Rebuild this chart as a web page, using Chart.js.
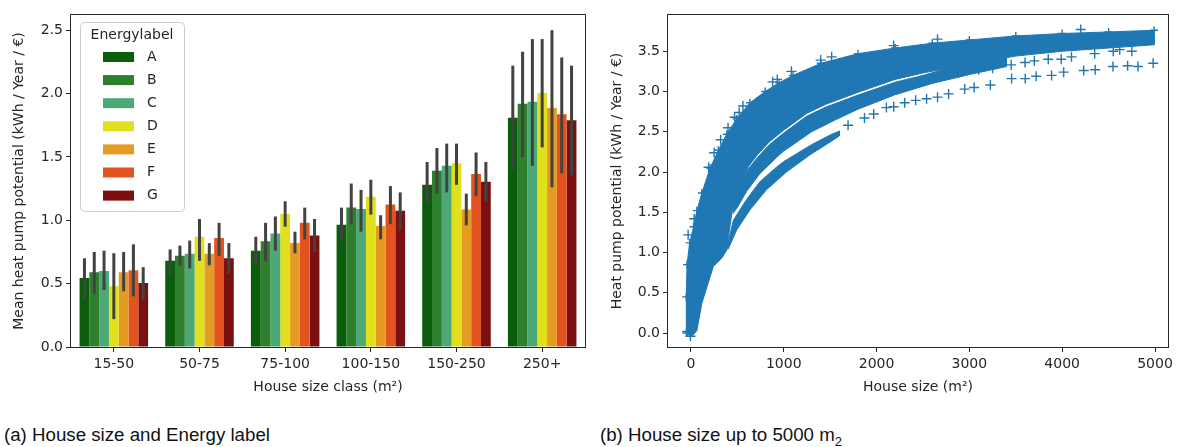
<!DOCTYPE html>
<html>
<head>
<meta charset="utf-8">
<script src="https://cdn.jsdelivr.net/npm/chart.js@4.4.1/dist/chart.umd.min.js"></script>
<style>
    body { margin: 0; background: #fff; width: 1177px; height: 447px; overflow: hidden; position: relative; font-family: 'Liberation Sans', Arial, sans-serif; }
    #barChart { position: absolute; left: 0; top: 0; }
    #scatterChart { position: absolute; left: 595px; top: 0; }
    .caption { position: absolute; top: 426px; font-size: 18.7px; line-height: 1; color: #111; white-space: nowrap; }
    .caption .sub { font-size: 13px; position: relative; top: 5px; }
</style>
</head>
<body>
<canvas id="barChart" width="600" height="410"></canvas>
<canvas id="scatterChart" width="582" height="410"></canvas>
<div class="caption" style="left:4px">(a) House size and Energy label</div>
<div class="caption" style="left:600px">(b) House size up to 5000 m<span class="sub">2</span></div>

<script>
// Panel (a): mean heat pump potential per house size class and energy label
const sizeClasses = ['15-50', '50-75', '75-100', '100-150', '150-250', '250+'];
const energyLabels = ['A', 'B', 'C', 'D', 'E', 'F', 'G'];

const meanA = [0.545, 0.68, 0.76, 0.965, 1.28, 1.81];
const meanB = [0.59, 0.72, 0.835, 1.10, 1.39, 1.92];
const meanC = [0.60, 0.735, 0.895, 1.09, 1.43, 1.935];
const meanD = [0.48, 0.87, 1.05, 1.185, 1.45, 2.005];
const meanE = [0.59, 0.735, 0.82, 0.955, 1.085, 1.887];
const meanF = [0.605, 0.86, 0.98, 1.125, 1.366, 1.837];
const meanG = [0.505, 0.70, 0.88, 1.075, 1.305, 1.79];

// confidence intervals [low, high]
const ciA = [[0.37, 0.70], [0.57, 0.77], [0.645, 0.87], [0.83, 1.10], [1.13, 1.46], [1.395, 2.22]];
const ciB = [[0.42, 0.75], [0.64, 0.80], [0.68, 0.98], [0.97, 1.29], [1.21, 1.57], [1.50, 2.33]];
const ciC = [[0.45, 0.76], [0.62, 0.84], [0.76, 1.03], [0.91, 1.24], [1.22, 1.605], [1.43, 2.43]];
const ciD = [[0.22, 0.74], [0.68, 1.01], [0.95, 1.15], [1.045, 1.32], [1.28, 1.605], [1.575, 2.43]];
const ciE = [[0.44, 0.75], [0.645, 0.82], [0.74, 0.91], [0.85, 1.04], [0.96, 1.21], [1.26, 2.50]];
const ciF = [[0.40, 0.81], [0.72, 0.98], [0.85, 1.10], [0.97, 1.27], [1.19, 1.535], [1.37, 2.285]];
const ciG = [[0.37, 0.63], [0.58, 0.82], [0.75, 1.01], [0.92, 1.22], [1.145, 1.46], [1.355, 2.22]];

const barTicks = [0, 0.5, 1.0, 1.5, 2.0, 2.5];

// Panel (b): house size vs heat pump potential, [size, potential]
const sizeTicks = [0, 1000, 2000, 3000, 4000, 5000];
const potentialTicks = [0, 0.5, 1.0, 1.5, 2.0, 2.5, 3.0, 3.5];

const mainBandTop = [[-48, 0.0], [-50, 0.45], [-42, 0.85], [-14, 1.12], [29, 1.32], [64, 1.52], [118, 1.74], [207, 2.05],
    [296, 2.27], [386, 2.47], [493, 2.66], [636, 2.86], [800, 3.0], [950, 3.11], [1100, 3.2], [1400, 3.35], [1800, 3.47],
    [2200, 3.54], [2600, 3.6], [3000, 3.64], [3500, 3.69], [4000, 3.72], [4500, 3.74], [4990, 3.76]];
const mainBandBottom = [[4990, 3.58], [4500, 3.54], [4000, 3.5], [3500, 3.44], [3000, 3.34], [2500, 3.23], [2200, 3.15],
    [1800, 2.99], [1450, 2.84], [1250, 2.73], [1000, 2.52], [850, 2.38], [720, 2.22], [620, 2.07], [530, 1.82], [450, 1.56],
    [405, 1.2], [386, 1.03], [332, 0.93], [243, 0.83], [207, 0.70], [118, 0.37], [64, 0.03], [10, -0.04], [-25, -0.03]];

const midBandTop = [[450, 1.56], [530, 1.82], [620, 2.04], [720, 2.185], [850, 2.345], [1000, 2.485], [1250, 2.695], [1450, 2.805],
    [1800, 2.955], [2200, 3.115], [2500, 3.2], [2800, 3.3], [3000, 3.34], [3400, 3.42]];
const midBandBottom = [[3400, 3.31], [3000, 3.21], [2600, 3.10], [2200, 2.96], [1800, 2.78], [1560, 2.65], [1300, 2.5],
    [1100, 2.34], [1000, 2.26], [921, 2.18], [743, 1.98], [600, 1.76], [500, 1.56], [450, 1.48]];

const lowBandTop = [[386, 1.05], [457, 1.40], [600, 1.66], [743, 1.88], [921, 2.06], [1000, 2.13], [1100, 2.2], [1300, 2.34],
    [1500, 2.46], [1600, 2.51]];
const lowBandBottom = [[1600, 2.45], [1564, 2.42], [1279, 2.21], [1029, 2.0], [814, 1.78], [636, 1.53], [493, 1.28], [400, 1.04]];

const lowSparse = [[1693, 2.58], [1870, 2.67], [1969, 2.72], [2106, 2.80], [2185, 2.81], [2303, 2.86], [2421, 2.89],
    [2539, 2.91], [2657, 2.93], [2776, 2.97], [2950, 3.03], [3051, 3.05], [3226, 3.08], [3455, 3.16], [3602, 3.16],
    [3720, 3.19], [3886, 3.20], [4016, 3.24], [4232, 3.26], [4356, 3.27], [4547, 3.31], [4705, 3.32], [4817, 3.31], [4980, 3.35]];
const midSparse = [[2700, 3.19], [2880, 3.23], [3100, 3.27], [3250, 3.29], [3450, 3.33], [3600, 3.36], [3700, 3.38],
    [3850, 3.40], [3990, 3.40], [4100, 3.43], [4350, 3.47], [4550, 3.50], [4620, 3.52], [4750, 3.50]];
const upperOutliers = [[-30, 1.22], [35, 1.42], [190, 2.06], [250, 2.24], [320, 2.40], [400, 2.55], [470, 2.68], [520, 2.74],
    [560, 2.82], [880, 3.12], [930, 3.15], [1083, 3.25], [1398, 3.39], [1516, 3.43], [2185, 3.57], [2657, 3.65],
    [4200, 3.77], [-40, 0.02], [-5, -0.04]];

const labelColors = ['#0a5d0a', '#2e7f2e', '#4da877', '#e2e01c', '#e39b23', '#e2531f', '#7a1010'];
const means = [meanA, meanB, meanC, meanD, meanE, meanF, meanG];
const cis = [ciA, ciB, ciC, ciD, ciE, ciF, ciG];

const ink = '#262626';
const blue = '#1f77b4';

Chart.defaults.font.family = "'DejaVu Sans', sans-serif";
Chart.defaults.font.size = 14;
Chart.defaults.color = ink;

function fixedTicks(values) {
    return scale => { scale.ticks = values.map(v => ({ value: v })); };
}

const tickGrid = { display: true, drawOnChartArea: false, drawTicks: true, tickLength: 5, color: ink, lineWidth: 1 };

// Rahmen um die Achsen
const framePlugin = {
    id: 'frame',
    afterDraw(chart) {
        const { ctx, chartArea: a } = chart;
        ctx.save();
        ctx.strokeStyle = ink;
        ctx.lineWidth = 1;
        ctx.strokeRect(Math.round(a.left) - 0.5, Math.round(a.top) - 0.5, Math.round(a.right - a.left) + 1, Math.round(a.bottom - a.top) + 1);
        ctx.restore();
    }
};

// Fehlerbalken
const errorBars = {
    id: 'errorBars',
    afterDatasetsDraw(chart) {
        const ctx = chart.ctx;
        const y = chart.scales.y;
        ctx.save();
        ctx.strokeStyle = '#424242';
        ctx.lineWidth = 3;
        chart.data.datasets.forEach((ds, i) => {
            chart.getDatasetMeta(i).data.forEach((bar, j) => {
                const [lo, hi] = ds.ci[j];
                ctx.beginPath();
                ctx.moveTo(bar.x, y.getPixelForValue(lo));
                ctx.lineTo(bar.x, y.getPixelForValue(hi));
                ctx.stroke();
            });
        });
        ctx.restore();
    }
};

// Legende innerhalb der Achsen
const innerLegend = {
    id: 'innerLegend',
    afterDraw(chart) {
        const { ctx, chartArea: a } = chart;
        const x0 = a.left + 9, y0 = a.top + 7, w = 104, h = 189;
        ctx.save();
        ctx.fillStyle = 'rgba(255,255,255,0.8)';
        ctx.strokeStyle = '#cccccc';
        ctx.lineWidth = 1;
        ctx.beginPath();
        ctx.roundRect(x0 + 0.5, y0 + 0.5, w, h, 4);
        ctx.fill();
        ctx.stroke();
        ctx.fillStyle = ink;
        ctx.font = "14px 'DejaVu Sans'";
        ctx.textBaseline = 'middle';
        ctx.textAlign = 'center';
        ctx.fillText('Energylabel', x0 + w / 2, y0 + 13);
        ctx.textAlign = 'left';
        chart.data.datasets.forEach((ds, i) => {
            const cy = y0 + 35 + i * 23.1;
            ctx.fillStyle = ds.backgroundColor;
            ctx.fillRect(x0 + 23, cy - 5, 31, 10);
            ctx.fillStyle = ink;
            ctx.fillText(ds.label, x0 + 67, cy);
        });
        ctx.restore();
    }
};

new Chart(document.getElementById('barChart'), {
    type: 'bar',
    data: {
        labels: sizeClasses,
        datasets: energyLabels.map((lab, i) => ({
            label: lab,
            data: means[i],
            ci: cis[i],
            backgroundColor: labelColors[i],
            borderWidth: 0,
            categoryPercentage: 0.8,
            barPercentage: 1.0
        }))
    },
    options: {
        responsive: false,
        animation: false,
        devicePixelRatio: 1,
        layout: { padding: { left: 0, right: 15, top: 15, bottom: 0 } },
        plugins: { legend: { display: false }, tooltip: { enabled: false } },
        scales: {
            x: {
                offset: true,
                grid: { ...tickGrid, offset: false },
                border: { display: false },
                ticks: { padding: 4, color: ink },
                title: { display: true, text: 'House size class (m²)', padding: { top: 0, bottom: 14 }, color: ink },
                afterFit: s => { s.height = 63; }
            },
            y: {
                min: 0,
                max: 2.62,
                grid: tickGrid,
                border: { display: false },
                afterBuildTicks: fixedTicks(barTicks),
                ticks: { padding: 3, color: ink, callback: v => v.toFixed(1) },
                title: { display: true, text: 'Mean heat pump potential (kWh / Year / €)', padding: { top: 11, bottom: 0 }, color: ink },
                afterFit: s => { s.width = 71; }
            }
        }
    },
    plugins: [errorBars, innerLegend, framePlugin]
});

const toPoints = arr => arr.map(([x, y]) => ({ x, y }));

function band(top, bottom) {
    return {
        data: toPoints(top.concat(bottom)),
        showLine: true,
        fill: 'shape',
        tension: 0,
        backgroundColor: blue,
        borderColor: blue,
        borderWidth: 1,
        pointRadius: 0
    };
}

function crosses(arr, r) {
    return {
        data: toPoints(arr),
        showLine: false,
        pointStyle: 'cross',
        pointRadius: r,
        pointBorderWidth: 1.4,
        borderColor: blue,
        backgroundColor: blue
    };
}

new Chart(document.getElementById('scatterChart'), {
    type: 'scatter',
    data: {
        datasets: [
            band(mainBandTop, mainBandBottom),
            band(midBandTop, midBandBottom),
            band(lowBandTop, lowBandBottom),
            crosses(mainBandTop, 4),
            crosses(lowSparse, 5),
            crosses(midSparse, 5),
            crosses(upperOutliers, 5)
        ]
    },
    options: {
        responsive: false,
        animation: false,
        devicePixelRatio: 1,
        layout: { padding: { left: 0, right: 7, top: 15, bottom: 0 } },
        plugins: { legend: { display: false }, tooltip: { enabled: false } },
        scales: {
            x: {
                type: 'linear',
                min: -247,
                max: 5140,
                grid: tickGrid,
                border: { display: false },
                afterBuildTicks: fixedTicks(sizeTicks),
                ticks: { padding: 4, color: ink, callback: v => String(v) },
                title: { display: true, text: 'House size (m²)', padding: { top: 0, bottom: 14 }, color: ink },
                afterFit: s => { s.height = 63; }
            },
            y: {
                min: -0.173,
                max: 3.95,
                grid: tickGrid,
                border: { display: false },
                afterBuildTicks: fixedTicks(potentialTicks),
                ticks: { padding: 3, color: ink, callback: v => v.toFixed(1) },
                title: { display: true, text: 'Heat pump potential (kWh / Year / €)', padding: { top: 13.6, bottom: 0 }, color: ink },
                afterFit: s => { s.width = 73; }
            }
        }
    },
    plugins: [framePlugin]
});
</script>
</body>
</html>
